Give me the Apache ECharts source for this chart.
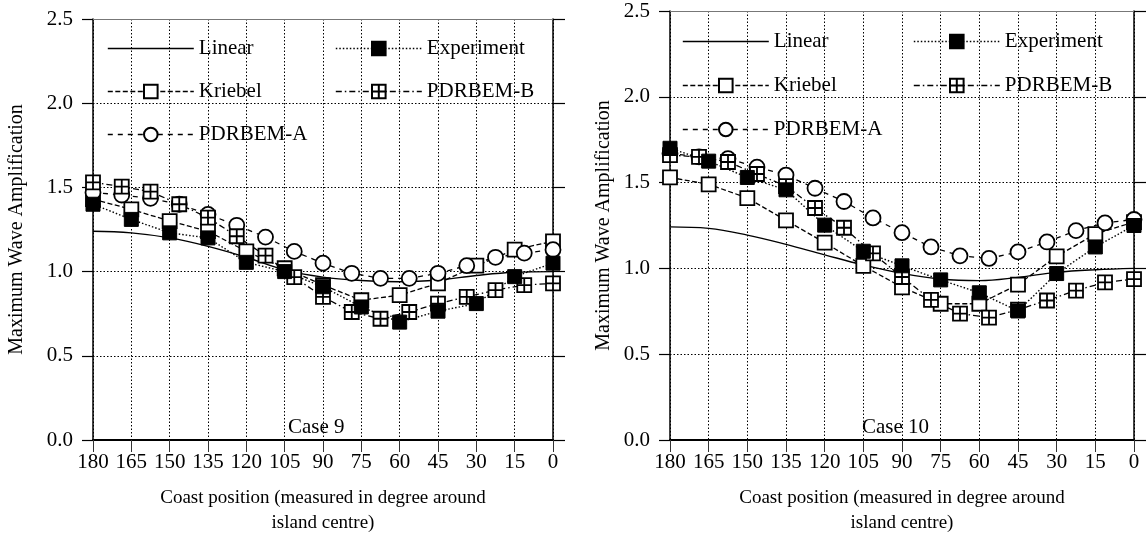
<!DOCTYPE html>
<html>
<head>
<meta charset="utf-8">
<script src="https://cdn.jsdelivr.net/npm/echarts@6/dist/echarts.min.js"></script>
<style>
  html, body { margin: 0; padding: 0; background: #fff; }
  #main { width: 1147px; height: 541px; }
</style>
</head>
<body>
<div id="main"></div>
<script>
// coast positions (degrees around island centre)
var degStep = [180, 165, 150, 135, 120, 105, 90, 75, 60, 45, 30, 15, 0];
var degFine = [180, 168.75, 157.5, 146.25, 135, 123.75, 112.5, 101.25, 90, 78.75, 67.5, 56.25, 45, 33.75, 22.5, 11.25, 0];
var yTicks = [0, 0.5, 1.0, 1.5, 2.0, 2.5];

// Case 9
var linear9  = [1.24, 1.23, 1.20, 1.15, 1.085, 1.01, 0.967, 0.947, 0.94, 0.95, 0.977, 0.996, 1.0];
var exp9     = [1.40, 1.31, 1.23, 1.20, 1.055, 1.0, 0.91, 0.79, 0.70, 0.765, 0.81, 0.97, 1.05];
var kriebel9 = [1.43, 1.37, 1.30, 1.24, 1.12, 1.02, 0.92, 0.83, 0.86, 0.93, 1.035, 1.13, 1.18];
var pdrA9    = [1.47, 1.455, 1.435, 1.40, 1.34, 1.275, 1.205, 1.12, 1.05, 0.99, 0.96, 0.96, 0.99, 1.035, 1.085, 1.11, 1.13];
var pdrB9    = [1.53, 1.505, 1.475, 1.40, 1.32, 1.21, 1.095, 0.967, 0.85, 0.76, 0.72, 0.76, 0.81, 0.85, 0.89, 0.92, 0.93];

// Case 10
var linear10  = [1.242, 1.233, 1.194, 1.14, 1.079, 1.02, 0.971, 0.938, 0.929, 0.948, 0.977, 0.992, 1.0];
var exp10     = [1.70, 1.625, 1.53, 1.458, 1.252, 1.10, 1.015, 0.933, 0.858, 0.752, 0.97, 1.125, 1.25];
var kriebel10 = [1.53, 1.49, 1.41, 1.28, 1.15, 1.015, 0.89, 0.794, 0.794, 0.906, 1.07, 1.20, 1.27];
var pdrA10    = [1.67, 1.65, 1.64, 1.59, 1.544, 1.467, 1.39, 1.294, 1.208, 1.125, 1.073, 1.058, 1.096, 1.154, 1.22, 1.265, 1.285];
var pdrB10    = [1.66, 1.65, 1.62, 1.55, 1.48, 1.352, 1.237, 1.087, 0.95, 0.817, 0.737, 0.713, 0.76, 0.813, 0.871, 0.919, 0.938];

var FONT = 'Liberation Serif';
var crossBox = 'path://M0,0H10V10H0ZM5,0V10M0,5H10';

// tiny helper instead of jQuery
var $ = { extend: function () {
    var t = arguments[0];
    for (var i = 1; i < arguments.length; i++) for (var k in arguments[i]) t[k] = arguments[i][k];
    return t;
} };

function pairs(xs, ys) {
    var out = [];
    for (var i = 0; i < xs.length; i++) out.push([xs[i], ys[i]]);
    return out;
}

function makeSeries(g, linear, exp, kriebel, pdrA, pdrB) {
    var xi = g * 2, yi = g * 2;
    var base = { type: 'line', xAxisIndex: xi, yAxisIndex: yi, symbolSize: 14, z: 3 };
    var open = { color: '#fff', borderColor: '#000', borderWidth: 1.8 };
    return [
        $.extend({}, base, {
            name: 'Linear', data: pairs(degStep, linear), symbol: 'none', smooth: 0.4,
            itemStyle: { color: '#000' },
            lineStyle: { color: '#000', width: 1.4, type: 'solid' }
        }),
        $.extend({}, base, {
            name: 'Kriebel', data: pairs(degStep, kriebel), symbol: 'rect',
            itemStyle: open,
            lineStyle: { color: '#000', width: 1.3, type: [5, 2.5] }
        }),
        $.extend({}, base, {
            name: 'PDRBEM-A', data: pairs(degFine, pdrA), symbol: 'circle', symbolSize: 15,
            itemStyle: open,
            lineStyle: { color: '#000', width: 1.3, type: [5, 5] }
        }),
        $.extend({}, base, {
            name: 'PDRBEM-B', data: pairs(degFine, pdrB), symbol: crossBox, symbolKeepAspect: true,
            itemStyle: open,
            lineStyle: { color: '#000', width: 1.3, type: [6, 3, 1.5, 3] }
        }),
        $.extend({}, base, {
            name: 'Experiment', data: pairs(degStep, exp), symbol: 'rect',
            itemStyle: { color: '#000', borderColor: '#000', borderWidth: 1 },
            lineStyle: { color: '#000', width: 1.4, type: [1.5, 2] }
        })
    ];
}

function xAxes(g) {
    return [{
        gridIndex: g, type: 'value', min: 0, max: 180, interval: 15, inverse: true, position: 'bottom',
        axisLine: { onZero: false, lineStyle: { color: '#000', width: 2 } },
        axisTick: { show: true, length: 12, lineStyle: { color: '#333', width: 1 } },
        axisLabel: { margin: 12, fontSize: 21, color: '#000', fontFamily: FONT },
        splitLine: { show: true, lineStyle: { color: '#000', width: 1, type: [1.5, 2] } },
        name: 'Coast position (measured in degree around\nisland centre)',
        nameLocation: 'middle', nameGap: 46,
        nameTextStyle: { fontSize: 19, color: '#000', fontFamily: FONT, lineHeight: 25 }
    }, {
        gridIndex: g, type: 'value', min: 0, max: 180, inverse: true, position: 'top',
        axisLine: { show: true, onZero: false, lineStyle: { color: '#777', width: 1 } },
        axisTick: { show: false }, axisLabel: { show: false }, splitLine: { show: false }
    }];
}

function yAxes(g, gap) {
    return [{
        gridIndex: g, type: 'value', min: yTicks[0], max: yTicks[yTicks.length - 1], interval: 0.5, position: 'left',
        axisLine: { show: true, onZero: false, lineStyle: { color: '#000', width: 1.5 } },
        axisTick: { show: true, length: 11, lineStyle: { color: '#000', width: 1.2 } },
        axisLabel: { margin: 20, fontSize: 21, color: '#000', fontFamily: FONT,
            formatter: function (v) { return v.toFixed(1); } },
        splitLine: { show: true, lineStyle: { color: '#000', width: 1, type: [1.5, 2] } },
        name: 'Maximum Wave Amplification', nameLocation: 'middle', nameGap: gap,
        nameTextStyle: { fontSize: 20, color: '#000', fontFamily: FONT }
    }, {
        gridIndex: g, type: 'value', min: 0, max: 2.5, interval: 0.5, position: 'right',
        axisLine: { show: true, onZero: false, lineStyle: { color: '#000', width: 1.5 } },
        axisTick: { show: true, length: 12, lineStyle: { color: '#000', width: 1.2 } },
        axisLabel: { show: false }, splitLine: { show: false }
    }];
}

function legends(left1, left2, top, gap) {
    var common = {
        orient: 'vertical', top: top, padding: 0, itemWidth: 86, itemHeight: 17, itemGap: gap,
        selectedMode: false, backgroundColor: 'transparent',
        lineStyle: { width: 1.6 },
        textStyle: { fontSize: 21, color: '#000', fontFamily: FONT, lineHeight: 21 }
    };
    return [
        $.extend({}, common, { left: left1,
            data: [{ name: 'Linear', icon: 'path://M0,0H86V1.7H0Z' }, 'Kriebel', 'PDRBEM-A'] }),
        $.extend({}, common, { left: left2, data: ['Experiment', 'PDRBEM-B'] })
    ];
}

var myChart = echarts.init(document.getElementById('main'));
var option = {
    animation: false,
    backgroundColor: '#fff',
    textStyle: { fontFamily: FONT },
    grid: [
        { left: 93, top: 19, width: 460, height: 426 },
        { left: 670, top: 11, width: 464, height: 434 }
    ],
    title: [
        { text: 'Case 9', left: 288, top: 417, padding: 0,
          textStyle: { fontSize: 21, fontWeight: 'normal', color: '#000', fontFamily: FONT } },
        { text: 'Case 10', left: 862, top: 417, padding: 0,
          textStyle: { fontSize: 21, fontWeight: 'normal', color: '#000', fontFamily: FONT } }
    ],
    legend: legends(107, 335, 38, 22).concat(legends(682, 913, 31, 23)),
    xAxis: xAxes(0).concat(xAxes(1)),
    yAxis: yAxes(0, 66).concat(yAxes(1, 56)),
    series: makeSeries(0, linear9, exp9, kriebel9, pdrA9, pdrB9)
        .concat(makeSeries(1, linear10, exp10, kriebel10, pdrA10, pdrB10))
};
myChart.setOption(option);
</script>
</body>
</html>
